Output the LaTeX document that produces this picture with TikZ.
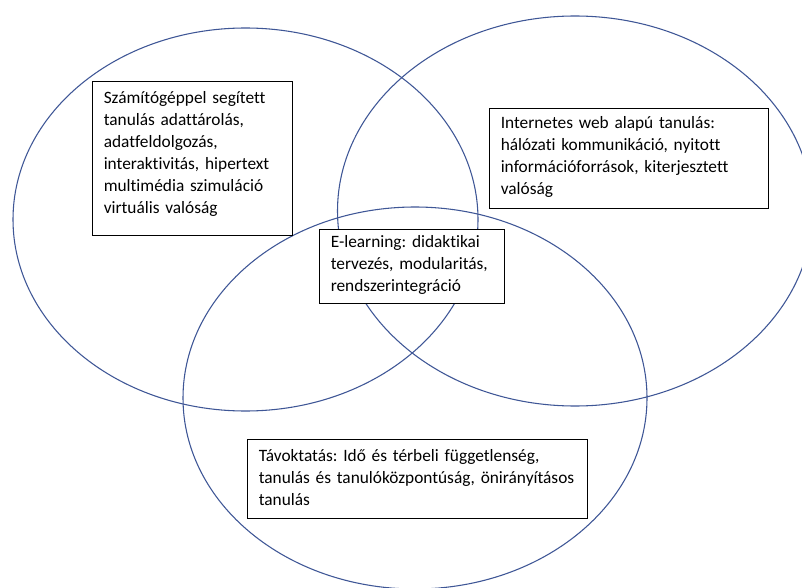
\documentclass[tikz,border=0pt]{standalone}
\usepackage{fontspec}
\setmainfont{Carlito}[Ligatures=NoCommon]
\usetikzlibrary{calc}
\definecolor{ringblue}{RGB}{62,86,150}
\frenchspacing
\begin{document}
\begin{tikzpicture}[x=0.75pt,y=-0.75pt,
  ring/.style={draw=ringblue,line width=0.8pt},
  topicbox/.style={draw=black,fill=white,line width=0.8pt,inner sep=0pt,anchor=north west},
  topictext/.style={anchor=base west,inner sep=0pt,text width=420*0.75pt,align=left,
    font=\fontsize{13pt}{16.5pt}\selectfont}]
  \useasboundingbox (0,0) rectangle (802,588);
  \clip (0,0) rectangle (802,588);
  \fill[white] (0,0) rectangle (802,588);

  % three overlapping areas
  \draw[ring] (245.5,219.5) ellipse [x radius=232.5*0.75pt, y radius=191.5*0.75pt];
  \draw[ring] (575,211) ellipse [x radius=237.5*0.75pt, y radius=195*0.75pt];
  \draw[ring] (415,398) ellipse [x radius=232*0.75pt, y radius=191*0.75pt];

  % computer aided learning
  \node[topicbox,minimum width=200*0.75pt,minimum height=154*0.75pt] (cal) at (92,81) {};
  \node[topictext] (caltext) at ($(cal.north west)+(11.5,22.3)$)
    {Számítógéppel segített\\tanulás adattárolás,\\adatfeldolgozás,\\interaktivitás, hipertext\\multimédia szimuláció\\virtuális valóság};

  % web based learning
  \node[topicbox,minimum width=279*0.75pt,minimum height=99.5*0.75pt] (web) at (489,108) {};
  \node[topictext] (webtext) at ($(web.north west)+(11.5,20.5)$)
    {Internetes web alapú tanulás:\\hálózati kommunikáció, nyitott\\információforrások, kiterjesztett\\valóság};

  % e-learning in the common part
  \node[topicbox,minimum width=184.5*0.75pt,minimum height=74*0.75pt] (elearn) at (319,229) {};
  \node[topictext] (elearntext) at ($(elearn.north west)+(11.5,18.8)$)
    {E-learning: didaktikai\\tervezés, modularitás,\\rendszerintegráció};

  % distance learning
  \node[topicbox,minimum width=340*0.75pt,minimum height=78.5*0.75pt] (dist) at (247,439) {};
  \node[topictext] (disttext) at ($(dist.north west)+(11.5,22.7)$)
    {Távoktatás: Idő és térbeli függetlenség,\\tanulás és tanulóközpontúság, önirányításos\\tanulás};
\end{tikzpicture}
\end{document}
